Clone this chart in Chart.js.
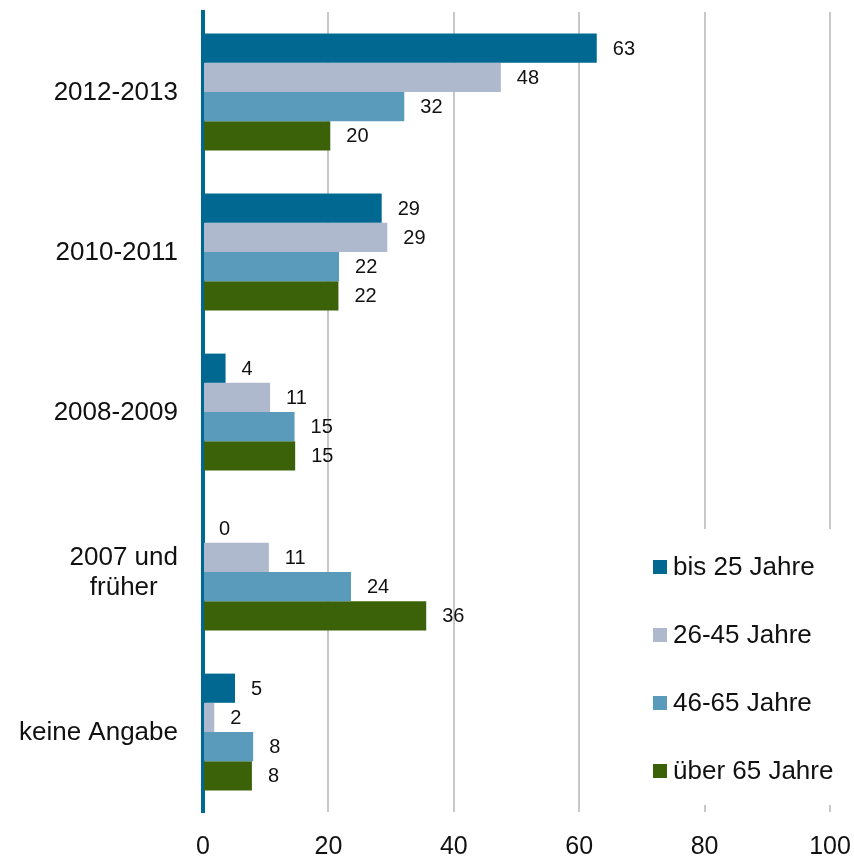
<!DOCTYPE html>
<html>
<head>
<meta charset="utf-8">
<script src="https://cdn.jsdelivr.net/npm/chart.js@4"></script>
<style>
  html, body { margin: 0; padding: 0; background: #fff; }
</style>
</head>
<body>
<canvas id="chartAltersgruppen" width="854" height="857"></canvas>
<script>
// Daten
let categories = [["2012-2013"], ["2010-2011"], ["2008-2009"], ["2007 und", "früher"], ["keine Angabe"]];
let seriesNames = ["bis 25 Jahre", "26-45 Jahre", "46-65 Jahre", "über 65 Jahre"];
let bis25 = [62.8, 28.5, 3.6, 0, 5.1];
let bis45 = [47.5, 29.4, 10.7, 10.5, 1.8];
let bis65 = [32.1, 21.7, 14.6, 23.6, 8.0];
let ueber65 = [20.3, 21.6, 14.7, 35.6, 7.8];
let xTicks = [0, 20, 40, 60, 80, 100];
let barColors = ["#006891", "#aeb9cd", "#5a9aba", "#3c6209"];

const FONT = "'Liberation Sans', Arial, sans-serif";

// Werte rechts neben den Balken
const valueLabels = {
    id: "valueLabels",
    afterDatasetsDraw(chart) {
        const ctx = chart.ctx;
        ctx.save();
        ctx.font = "20px " + FONT;
        ctx.fillStyle = "#111";
        ctx.textAlign = "left";
        ctx.textBaseline = "middle";
        chart.data.datasets.forEach((ds, i) => {
            chart.getDatasetMeta(i).data.forEach((bar, j) => {
                ctx.fillText(Math.round(ds.data[j]), bar.x + 16, bar.y + 1);
            });
        });
        ctx.restore();
    }
};

// Kategorien links, mehrzeilig zentriert, rechtsbündig am Block
const categoryLabels = {
    id: "categoryLabels",
    afterDraw(chart) {
        const ctx = chart.ctx;
        const y = chart.scales.y;
        ctx.save();
        ctx.font = "26px " + FONT;
        ctx.fillStyle = "#111";
        ctx.textAlign = "center";
        ctx.textBaseline = "middle";
        categories.forEach((lines, i) => {
            const cy = y.getPixelForValue(i);
            const w = Math.max(...lines.map(l => ctx.measureText(l).width));
            const cx = 178 - w / 2;
            const lh = 30;
            lines.forEach((l, k) => {
                ctx.fillText(l, cx, cy + 1 + (k - (lines.length - 1) / 2) * lh);
            });
        });
        ctx.restore();
    }
};

// Legende im Diagramm, mit weissem Hintergrund
const innerLegend = {
    id: "innerLegend",
    afterDraw(chart) {
        const ctx = chart.ctx;
        ctx.save();
        ctx.fillStyle = "#fff";
        ctx.fillRect(610, 529, 244, 276);
        ctx.font = "26px " + FONT;
        ctx.textAlign = "left";
        ctx.textBaseline = "middle";
        chart.data.datasets.forEach((ds, i) => {
            const cy = 567 + i * 68;
            ctx.fillStyle = ds.backgroundColor;
            ctx.fillRect(653, cy - 7, 14, 14);
            ctx.fillStyle = "#111";
            ctx.fillText(ds.label, 673, cy + 1);
        });
        ctx.restore();
    }
};

new Chart("chartAltersgruppen", {
    type: "bar",
    data: {
        labels: categories.map(c => c.join(" ")),
        datasets: [bis25, bis45, bis65, ueber65].map((d, i) => ({
            label: seriesNames[i],
            data: d,
            backgroundColor: barColors[i],
            categoryPercentage: 0.73,
            barPercentage: 1.0
        }))
    },
    options: {
        indexAxis: "y",
        responsive: false,
        animation: false,
        layout: { padding: { top: 12, right: 24, bottom: 0, left: 0 } },
        plugins: {
            legend: { display: false },
            tooltip: { enabled: false }
        },
        scales: {
            x: {
                min: 0,
                max: 100,
                afterBuildTicks: s => { s.ticks = xTicks.map(v => ({ value: v })); },
                afterFit: s => {
                    s.height = 45;
                    s.paddingLeft = 0;
                    s.paddingRight = 0;
                },
                grid: {
                    color: ctx => ctx.index === 0 ? "rgba(0,0,0,0)" : "#c8c8c8",
                    lineWidth: 2,
                    drawTicks: false
                },
                border: { display: false },
                ticks: {
                    color: "#111",
                    padding: 20,
                    font: { family: FONT, size: 25 }
                }
            },
            y: {
                grid: { display: false, drawTicks: false },
                border: { display: true, color: "#006891", width: 4 },
                ticks: { display: false },
                afterFit: s => { s.width = 203; }
            }
        }
    },
    plugins: [valueLabels, categoryLabels, innerLegend]
});
</script>
</body>
</html>
